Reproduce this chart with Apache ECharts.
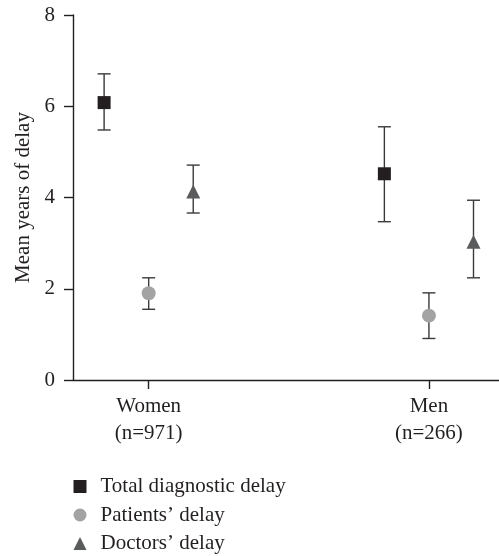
<!DOCTYPE html>
<html>
<head>
<meta charset="utf-8">
<script src="https://cdn.jsdelivr.net/npm/echarts@6/dist/echarts.min.js"></script>
<style>html,body{margin:0;padding:0;background:#fff;}#c{width:499px;height:556px;}</style>
</head>
<body>
<div id="c"></div>
<script>
// ---- data ----
const categories = ['Women\n(n=971)', 'Men\n(n=266)'];
const seriesNames = ['Total diagnostic delay', 'Patients\u2019 delay', 'Doctors\u2019 delay'];
const totalMean = [6.08, 4.52];
const totalLow = [5.48, 3.47];
const totalHigh = [6.71, 5.55];
const patientsMean = [1.90, 1.41];
const patientsLow = [1.55, 0.91];
const patientsHigh = [2.24, 1.91];
const doctorsMean = [4.13, 3.03];
const doctorsLow = [3.66, 2.24];
const doctorsHigh = [4.71, 3.94];
const yTicks = [0, 2, 4, 6, 8];

// ---- layout ----
const FONT = '"Liberation Serif", "DejaVu Serif", serif';
const TXT = '#231f20';
const offsets = [-0.159, 0, 0.159];
const colors = ['#231f20', '#a3a3a3', '#5a5b5d'];
const symbols = ['rect', 'circle', 'triangle'];
const symbolSizes = [13, 14, 14];
const means = [totalMean, patientsMean, doctorsMean];
const lows = [totalLow, patientsLow, doctorsLow];
const highs = [totalHigh, patientsHigh, doctorsHigh];
const catPos = categories.map((c, i) => i + 1);

const series = [];
// error bars
series.push({
  type: 'custom',
  name: 'err',
  silent: true,
  z: 1,
  data: (function () {
    const d = [];
    means.forEach((m, s) => {
      m.forEach((v, i) => d.push([catPos[i] + offsets[s], lows[s][i], highs[s][i]]));
    });
    return d;
  })(),
  renderItem: function (params, api) {
    const x = api.value(0);
    const lo = api.coord([x, api.value(1)]);
    const hi = api.coord([x, api.value(2)]);
    const hw = 6.5;
    const st = { stroke: '#3a3a3a', lineWidth: 1.4 };
    return {
      type: 'group',
      children: [
        { type: 'line', shape: { x1: lo[0], y1: lo[1], x2: hi[0], y2: hi[1] }, style: st },
        { type: 'line', shape: { x1: lo[0] - hw, y1: lo[1], x2: lo[0] + hw, y2: lo[1] }, style: st },
        { type: 'line', shape: { x1: hi[0] - hw, y1: hi[1], x2: hi[0] + hw, y2: hi[1] }, style: st }
      ]
    };
  }
});
seriesNames.forEach((name, s) => {
  series.push({
    type: 'scatter',
    name: name,
    z: 5,
    symbol: symbols[s],
    symbolSize: symbolSizes[s],
    itemStyle: { color: colors[s], opacity: 1 },
    data: means[s].map((v, i) => [catPos[i] + offsets[s], v])
  });
});

const chart = echarts.init(document.getElementById('c'), null, { renderer: 'canvas' });
chart.setOption({
  animation: false,
  backgroundColor: '#fff',
  textStyle: { fontFamily: FONT },
  grid: { left: 73, right: 0, top: 15, bottom: 176, containLabel: false },
  xAxis: {
    type: 'value',
    min: 0.73,
    max: 2.25,
    splitLine: { show: false },
    axisLine: { show: true, lineStyle: { color: TXT, width: 1.4 } },
    axisTick: { show: true, customValues: catPos, length: 9, inside: false, lineStyle: { color: TXT, width: 1.4 } },
    axisLabel: {
      customValues: catPos,
      formatter: function (v) { return categories[Math.round(v) - 1] || ''; },
      color: TXT, fontSize: 21, lineHeight: 27, margin: 13, fontFamily: FONT
    }
  },
  yAxis: {
    type: 'value',
    min: yTicks[0],
    max: yTicks[yTicks.length - 1],
    interval: 2,
    name: 'Mean years of delay',
    nameLocation: 'middle',
    nameGap: 37,
    nameTextStyle: { color: TXT, fontSize: 21, fontFamily: FONT },
    splitLine: { show: false },
    axisLine: { show: true, lineStyle: { color: TXT, width: 1.4 } },
    axisTick: { show: true, length: 9, inside: false, lineStyle: { color: TXT, width: 1.4 } },
    axisLabel: { color: TXT, fontSize: 21, margin: 18, fontFamily: FONT }
  },
  legend: {
    orient: 'vertical',
    left: 73.5,
    top: 476,
    height: 80,
    padding: 0,
    itemWidth: 13,
    itemHeight: 13,
    itemGap: 7.5,
    data: seriesNames.map((n, s) => ({ name: n, icon: symbols[s] })),
    textStyle: { color: TXT, fontSize: 21, fontFamily: FONT, padding: [0, 0, 0, 9] },
    selectedMode: false
  },
  series: series
});
</script>
</body>
</html>
